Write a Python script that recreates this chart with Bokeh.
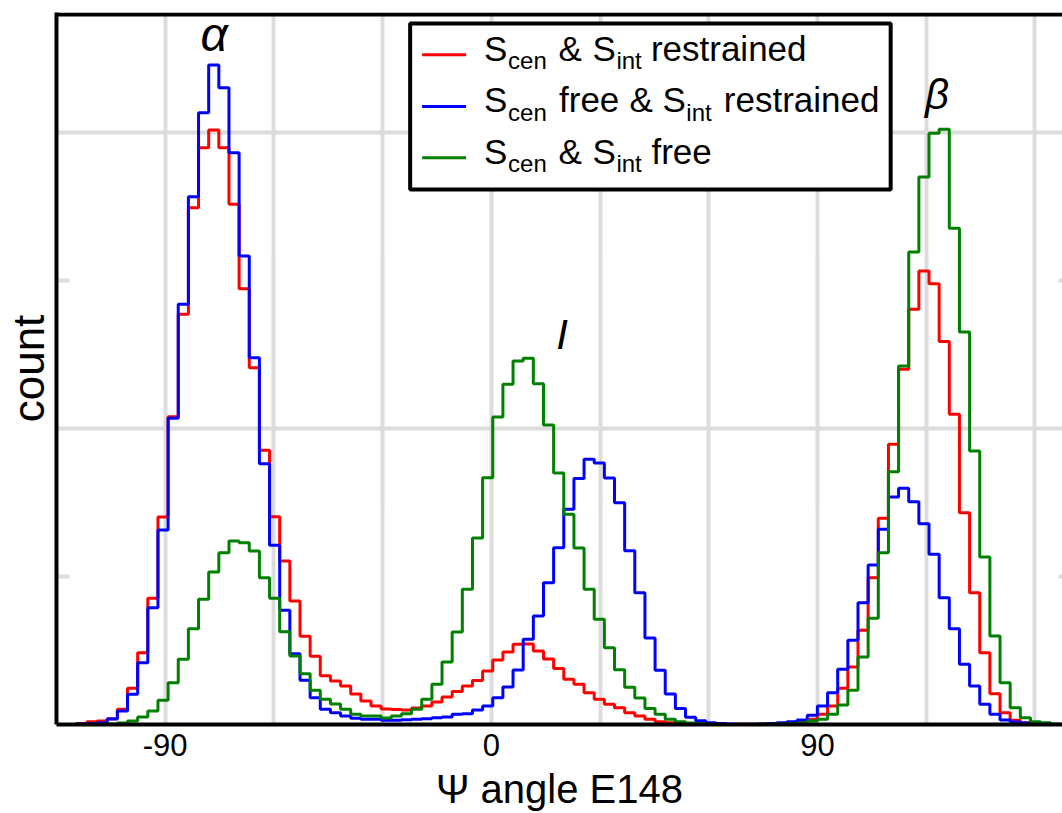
import numpy as np
from bokeh.plotting import figure
from bokeh.models import Range1d, FixedTicker, Label, BoxAnnotation, Span
from bokeh.embed import file_html
from bokeh.resources import INLINE

# ---------------- data ----------------
bin_start = -120.0
bin_width = 2.8
n_bins = 100

red_counts = [0, 0, 7, 19, 24, 39, 103, 245, 485, 853,
              1402, 2080, 2772, 3492, 3897, 4017, 3897, 3515, 2945, 2411,
              1853, 1404, 1105, 834, 596, 461, 330, 294, 260, 206,
              159, 125, 105, 101, 98, 111, 125, 152, 186, 223,
              260, 297, 361, 436, 490, 542, 544, 497, 443, 378,
              305, 272, 215, 170, 136, 114, 80, 57, 35, 19,
              12, 7, 3, 1, 0, 0, 0, 1, 1, 2,
              3, 7, 12, 22, 35, 69, 125, 245, 389, 637,
              992, 1393, 1893, 2400, 2805, 3064, 2978, 2587, 2096, 1431,
              891, 485, 208, 80, 28, 12, 5, 2, 0, 0]

blue_counts = [0, 0, 3, 7, 12, 37, 91, 204, 418, 789,
               1314, 2069, 2839, 3566, 4134, 4456, 4303, 3864, 3166, 2478,
               1762, 1211, 772, 478, 299, 181, 103, 80, 57, 42,
               35, 35, 28, 28, 32, 35, 39, 46, 51, 69,
               73, 98, 125, 181, 253, 368, 576, 733, 958, 1195,
               1454, 1662, 1792, 1767, 1666, 1499, 1174, 891, 584, 367,
               206, 108, 49, 26, 12, 7, 3, 1, 2, 4,
               7, 12, 19, 30, 62, 125, 215, 373, 569, 823,
               1078, 1319, 1537, 1596, 1505, 1357, 1150, 857, 647, 407,
               260, 136, 69, 30, 17, 10, 3, 1, 0, 0]

green_counts = [0, 0, 0, 0, 1, 3, 10, 24, 51, 91,
                164, 282, 441, 647, 846, 1030, 1161, 1240, 1228, 1172,
                992, 853, 627, 463, 343, 231, 170, 139, 103, 69,
                57, 57, 44, 57, 73, 103, 170, 272, 422, 625,
                914, 1260, 1668, 2078, 2299, 2456, 2474, 2303, 2024, 1699,
                1420, 1193, 914, 711, 519, 370, 251, 179, 108, 69,
                35, 19, 10, 5, 2, 0, 0, 0, 0, 1,
                2, 3, 5, 10, 24, 35, 69, 132, 231, 456,
                718, 1161, 1708, 2422, 3193, 3700, 3995, 4022, 3353, 2652,
                1848, 1132, 598, 282, 114, 46, 19, 12, 3, 0]

series_labels = [
    [("S", False), ("cen", True), ("&", False), ("S", False), ("int", True), ("restrained", False)],
    [("S", False), ("cen", True), ("free", False), ("&", False), ("S", False), ("int", True), ("restrained", False)],
    [("S", False), ("cen", True), ("&", False), ("S", False), ("int", True), ("free", False)],
]
series_colors = ["#ff0000", "#0000ff", "#008000"]

x_ticks = [-90, 0, 90]
x_tick_labels = {-90: "-90", 0: "0", 90: "90"}
x_grid = [-90, -60, -30, 0, 30, 60, 90, 120, 150]
y_minor_ticks = [1000, 3000]
y_grid = [2000, 4000]

peak_names = ["α", "I", "β"]
peak_pos = [(-76.5, 4570), (19.5, 2540), (123.0, 4160)]
peak_sizes = ["48px", "42px", "42px"]

# ---------------- layout ----------------
W, H = 1062, 813
B_LEFT, B_RIGHT, B_TOP, B_BOTTOM = 55, 0, 12, 89
FRAME_W = W - B_LEFT - B_RIGHT
FRAME_H = H - B_TOP - B_BOTTOM
PX_PER_COUNT = 0.148
X0, X1 = -120.0, -120.0 + FRAME_W / 3.627
Y0, Y1 = 0.0, FRAME_H / PX_PER_COUNT
FONT = "Liberation Sans"
LABEL_SHIFT = 14  # px: compensate label baseline placement


def dx(page_x):
    return X0 + (page_x - B_LEFT) / FRAME_W * (X1 - X0)


def dy(page_y):
    return Y0 + (B_TOP + FRAME_H - page_y) / FRAME_H * (Y1 - Y0)


p = figure(width=W, height=H, output_backend="svg", toolbar_location=None,
           x_range=Range1d(X0, X1), y_range=Range1d(Y0, Y1),
           min_border_left=B_LEFT, min_border_right=B_RIGHT,
           min_border_top=B_TOP, min_border_bottom=B_BOTTOM)
p.outline_line_color = None
p.background_fill_color = "white"
p.border_fill_color = "white"

# grid
p.xgrid.ticker = FixedTicker(ticks=x_grid)
p.ygrid.ticker = FixedTicker(ticks=y_grid)
for g in (p.xgrid, p.ygrid):
    g.grid_line_color = "#dcdcdc"
    g.grid_line_width = 4

# x axis
xa = p.xaxis[0]
xa.ticker = FixedTicker(ticks=x_ticks)
xa.major_label_overrides = x_tick_labels
xa.axis_line_color = "black"
xa.axis_line_width = 4
xa.major_tick_out = 0
xa.major_tick_in = 0
xa.minor_tick_out = 0
xa.minor_tick_in = 0
xa.major_label_text_font = FONT
xa.major_label_text_font_size = "31px"
xa.major_label_text_color = "black"
xa.major_label_standoff = 9
xa.axis_label = "Ψ angle E148"
xa.axis_label_text_font = FONT
xa.axis_label_text_font_size = "40px"
xa.axis_label_text_font_style = "normal"
xa.axis_label_text_color = "black"
xa.axis_label_standoff = 8

# y axis (no tick labels)
ya = p.yaxis[0]
ya.ticker = FixedTicker(ticks=[])
ya.axis_line_color = "black"
ya.axis_line_width = 4
ya.major_tick_out = 0
ya.major_tick_in = 0
ya.minor_tick_out = 0
ya.minor_tick_in = 0
ya.major_label_standoff = 0
ya.axis_label = "count"
ya.axis_label_text_font = FONT
ya.axis_label_text_font_size = "44px"
ya.axis_label_text_font_style = "normal"
ya.axis_label_text_color = "black"
ya.axis_label_standoff = 4

# small inward grey tick marks on the left and right edges
n_t = len(y_minor_ticks)
p.segment(x0=[X0] * n_t, x1=[dx(B_LEFT + 13)] * n_t,
          y0=y_minor_ticks, y1=y_minor_ticks, line_color="#dcdcdc", line_width=4)
p.segment(x0=[dx(W - 4)] * n_t, x1=[X1] * n_t,
          y0=y_minor_ticks, y1=y_minor_ticks, line_color="#dcdcdc", line_width=4)

# top frame line
p.add_layout(Span(location=dy(14), dimension="width", line_color="black", line_width=4))

# histograms (step outlines)
edges = bin_start + bin_width * np.arange(n_bins + 1)
for counts, color in zip([red_counts, blue_counts, green_counts], series_colors):
    yv = np.append(np.asarray(counts, dtype=float), 0.0)
    p.step(x=edges, y=yv, mode="after", line_color=color, line_width=3)

# peak labels
shift_counts = LABEL_SHIFT / PX_PER_COUNT
for name, (px_, py_), fs in zip(peak_names, peak_pos, peak_sizes):
    p.add_layout(Label(x=px_, y=py_ + shift_counts, text=name, text_font=FONT, text_font_size=fs,
                       text_font_style="italic", text_align="center", text_baseline="alphabetic",
                       text_color="black"))

# legend box (manual, to allow subscripts)
box = BoxAnnotation(left=dx(409), right=dx(890), top=dy(23), bottom=dy(189),
                    fill_color="white", fill_alpha=1.0, line_color="black", line_alpha=1.0,
                    line_width=4, level="underlay")
p.add_layout(box)

row_base = [61.7, 113.3, 164.7]
row_line = [54.3, 106.0, 157.3]
row_x = [
    [483, 507, 557.5, 591.5, 615.5, 650],
    [483, 507, 558, 628.5, 661.5, 685.5, 723],
    [483, 507, 557.5, 591.5, 615.5, 650.5],
]
p.segment(x0=[dx(421)] * 3, x1=[dx(465)] * 3,
          y0=[dy(v) for v in row_line], y1=[dy(v) for v in row_line],
          line_color=series_colors, line_width=3)
for r, (pieces, xs) in enumerate(zip(series_labels, row_x)):
    for (txt, sub), px_ in zip(pieces, xs):
        yb = row_base[r] + (12.3 if sub else 0.0) - LABEL_SHIFT
        p.add_layout(Label(x=dx(px_), y=dy(yb), text=txt, text_font=FONT,
                           text_font_size="24px" if sub else "35px",
                           text_align="left", text_baseline="alphabetic", text_color="black"))

open("out.html", "w").write(file_html(p, INLINE))
